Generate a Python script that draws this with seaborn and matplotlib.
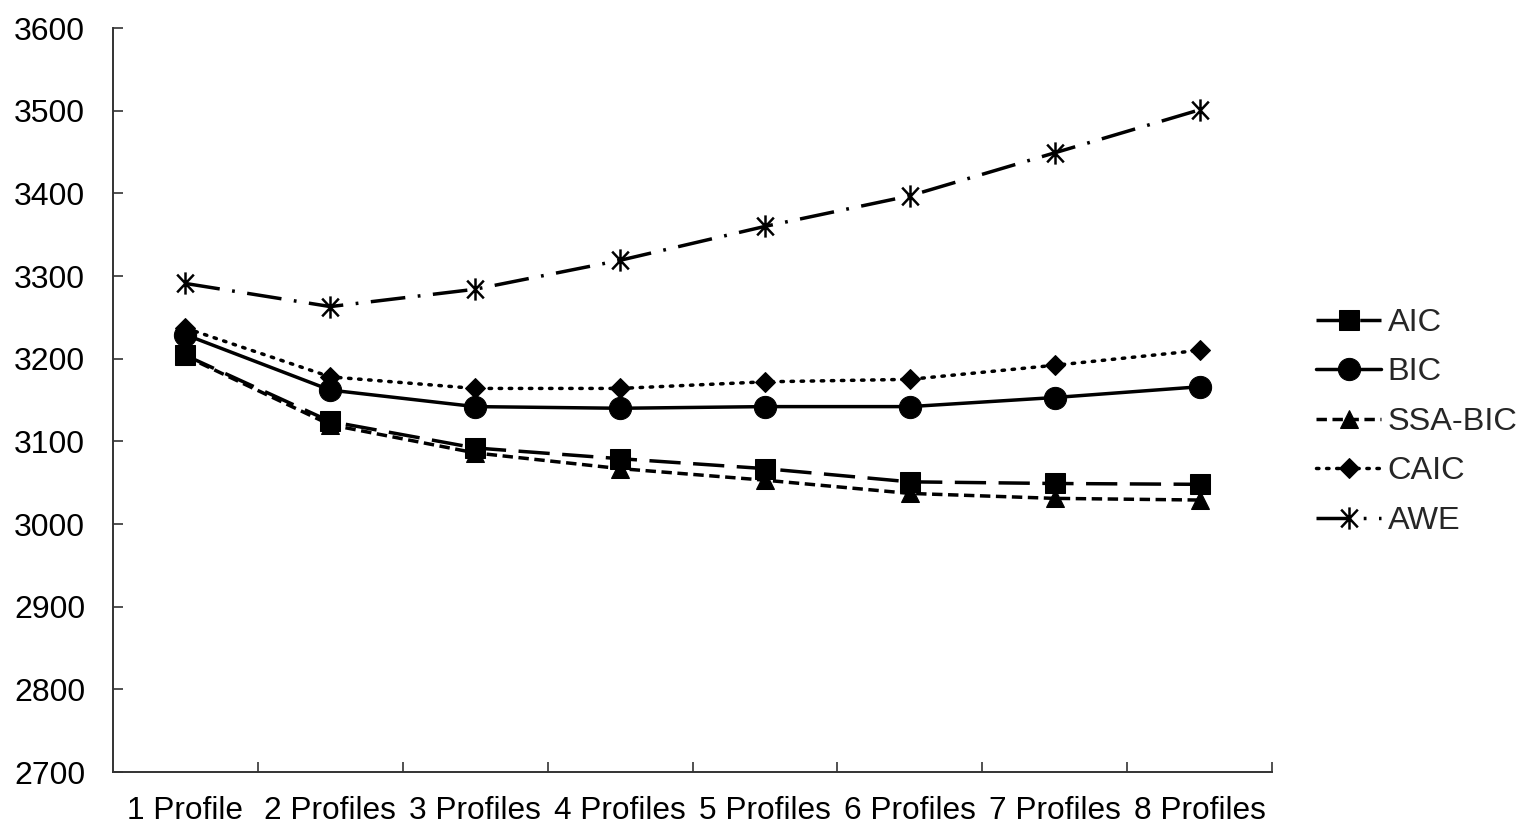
import matplotlib
matplotlib.use("Agg")
import matplotlib.pyplot as plt
from matplotlib.path import Path
from matplotlib.ticker import FixedLocator
import pandas as pd
import seaborn as sns

# Fit indices for latent profile solutions
profiles = ["1 Profile", "2 Profiles", "3 Profiles", "4 Profiles",
            "5 Profiles", "6 Profiles", "7 Profiles", "8 Profiles"]
aic = [3204, 3124, 3092, 3079, 3067, 3051, 3049, 3048]
bic = [3229, 3162, 3142, 3140, 3142, 3142, 3153, 3166]
ssa_bic = [3203, 3120, 3086, 3067, 3053, 3037, 3031, 3029]
caic = [3237, 3178, 3164, 3164, 3172, 3175, 3192, 3210]
awe = [3291, 3263, 3284, 3319, 3360, 3397, 3449, 3501]
y_ticks = [2700, 2800, 2900, 3000, 3100, 3200, 3300, 3400, 3500, 3600]

sns.set_theme(style="white")
plt.rcParams["font.family"] = ["Liberation Sans", "DejaVu Sans"]

# asterisk: vertical stroke plus a cross
star = Path(
    [(0, -1), (0, 1), (-0.75, -0.8), (0.75, 0.8), (-0.75, 0.8), (0.75, -0.8)],
    [Path.MOVETO, Path.LINETO, Path.MOVETO, Path.LINETO, Path.MOVETO, Path.LINETO],
)

series = [
    ("AIC", aic, dict(marker="s", markersize=15, linestyle=(0, (9, 3.6)))),
    ("BIC", bic, dict(marker="o", markersize=16, linestyle="-")),
    ("SSA-BIC", ssa_bic, dict(marker="^", markersize=13.5, linestyle=(0, (3, 1.6)))),
    ("CAIC", caic, dict(marker="D", markersize=10, linestyle=(0, (0.7, 2.2)),
                        dash_capstyle="round")),
    ("AWE", awe, dict(marker=star, markersize=16, markeredgewidth=1.8,
                      linestyle=(0, (10, 3.6, 0.8, 3.6)))),
]

fig = plt.figure(figsize=(15.23, 8.25), dpi=100)
ax = fig.add_axes([113 / 1523, 1 - 772 / 825, (1272 - 113) / 1523, (772 - 28) / 825])

for name, vals, style in series:
    df = pd.DataFrame({"profile": profiles, "value": vals})
    sns.lineplot(data=df, x="profile", y="value", ax=ax, color="black",
                 linewidth=2.5, markeredgecolor="black", markerfacecolor="black",
                 label=name, sort=False, **style)

ax.set_xlim(-0.5, len(profiles) - 0.5)
ax.set_ylim(y_ticks[0], y_ticks[-1])
ax.set_yticks(y_ticks)
ax.set_xticks(range(len(profiles)))
ax.set_xticklabels(profiles)
ax.xaxis.set_minor_locator(FixedLocator([i + 0.5 for i in range(len(profiles))]))
ax.set_xlabel("")
ax.set_ylabel("")

ax.tick_params(axis="x", which="major", length=0, pad=17, labelsize=22.8, colors="black")
ax.tick_params(axis="x", which="minor", direction="in", length=7, width=1.2,
               color="#333333", bottom=True)
ax.tick_params(axis="y", which="major", direction="in", length=7, width=1.2,
               color="#333333", pad=20, labelsize=23, left=True, labelcolor="black")

for side in ("top", "right"):
    ax.spines[side].set_visible(False)
for side in ("left", "bottom"):
    ax.spines[side].set_color("#333333")
    ax.spines[side].set_linewidth(1.4)

ax.legend(loc="center left", bbox_to_anchor=(1316 / 1523, 1 - 422 / 825),
          bbox_transform=fig.transFigure, frameon=False, fontsize=23.4,
          borderaxespad=0, borderpad=0, handlelength=2.0, handletextpad=0.2,
          labelspacing=0.6)

fig.savefig("out.png", dpi=100, facecolor="white")
